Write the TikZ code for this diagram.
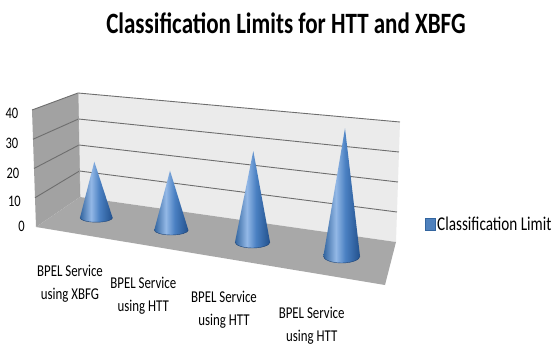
\documentclass[tikz,border=0pt]{standalone}
\usepackage{fontspec}
\setmainfont[FakeStretch=0.78]{Carlito}
\usetikzlibrary{calc}

\definecolor{backwall}{HTML}{EBEBEB}
\definecolor{sidewall}{HTML}{A2A2A2}
\definecolor{floorgray}{HTML}{A8A8A8}
\definecolor{gridgray}{HTML}{6E6E6E}
\definecolor{coneA}{HTML}{33659F}
\definecolor{coneB}{HTML}{93B8E6}
\definecolor{coneC}{HTML}{4A80C2}
\definecolor{coneD}{HTML}{22508C}
\definecolor{legendblue}{HTML}{4F81BD}

% left-to-right cone shading (the path box maps to 25bp..75bp)
\pgfdeclarehorizontalshading{conefill}{100bp}{%
  color(0bp)=(coneA); color(25bp)=(coneA); color(42bp)=(coneB);
  color(55bp)=(coneC); color(75bp)=(coneD); color(100bp)=(coneD)}

\tikzset{
  gridline/.style={draw=gridgray, line width=0.9pt},
  walledge/.style={draw=gray!75, line width=0.6pt},
  ticklabel/.style={font=\fontsize{16}{18}\selectfont, inner sep=0pt},
  catlabel/.style={font=\fontsize{16.5}{23}\selectfont, align=center, inner sep=0pt},
  titlelabel/.style={font=\bfseries\fontsize{29.5}{32}\selectfont, inner sep=0pt},
  legendlabel/.style={font=\fontsize{19.5}{21}\selectfont, inner sep=0pt, anchor=west},
  conebody/.style={shading=conefill},
}

\begin{document}
\begin{tikzpicture}[x=1pt, y=-1pt]
\useasboundingbox (0,0) rectangle (555,348);

% chart box corners
\coordinate (BT) at (78,93);    % back wall, top left
\coordinate (BL) at (80,197);   % back wall, bottom left
\coordinate (RT) at (400,122);  % back wall, top right
\coordinate (RB) at (396,242);  % back wall, bottom right
\coordinate (FT) at (32,110);   % side wall, front top
\coordinate (FB) at (36,227);   % floor, front left
\coordinate (FR) at (385,285);  % floor, front right

% walls and floor
\fill[backwall] (BT) -- (RT) -- (RB) -- (BL) -- cycle;
\fill[sidewall] (BT) -- (FT) -- (FB) -- (BL) -- cycle;
\fill[floorgray] (BL) -- (RB) -- (FR) -- (FB) -- cycle;

% gridlines at 10, 20, 30
\foreach \t in {0.25,0.5,0.75} {
  \draw[gridline] ($(FB)!\t!(FT)$) -- ($(BL)!\t!(BT)$) -- ($(RB)!\t!(RT)$);
}
\draw[gridline] (FT) -- (BT) -- (RT);
\draw[walledge] (BT) -- (BL);

% cones: apex x/y, base centre x/y, base radii
\foreach \ax/\ay/\cx/\cy/\rx/\ry in {
  94.3/161.7/96.3/217.7/16.3/4.5,
  170/170.7/171.3/230/17/5,
  253.3/151/252.5/242/17.5/6,
  345/128.3/341.7/256/18.3/7} {
  \shade[conebody] (\ax,\ay) -- (\cx-\rx,\cy)
    arc[start angle=180, end angle=360, x radius=\rx pt, y radius=\ry pt] -- cycle;
  \draw[coneD!85!black, line width=0.4pt] (\cx-\rx,\cy)
    arc[start angle=180, end angle=360, x radius=\rx pt, y radius=\ry pt];
}

% axis values
\node[ticklabel, anchor=east] (v40) at (18.5,113) {40};
\node[ticklabel, anchor=east] (v30) at (18.5,143) {30};
\node[ticklabel, anchor=east] (v20) at (19.5,173) {20};
\node[ticklabel, anchor=east] (v10) at (21,201.7) {10};
\node[ticklabel, anchor=east] (v0)  at (25,226.7) {0};

% categories
\node[catlabel] (c1) at (70,283.4)  {BPEL Service\\using XBFG};
\node[catlabel] (c2) at (143.3,296) {BPEL Service\\using HTT};
\node[catlabel] (c3) at (224,309.5) {BPEL Service\\using HTT};
\node[catlabel] (c4) at (311.7,326) {BPEL Service\\using HTT};

% title
\node[titlelabel] (title) at (286,23) {Classification Limits for HTT and XBFG};

% legend
\filldraw[fill=legendblue, draw=coneA, line width=0.5pt] (425,218.3) rectangle (435,230);
\node[legendlabel] (legend) at (437,224) {Classification Limit};
\end{tikzpicture}
\end{document}
